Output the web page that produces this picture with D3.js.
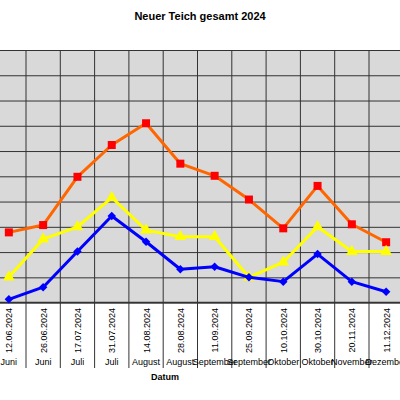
<!DOCTYPE html>
<html>
<head>
<meta charset="utf-8">
<script src="https://cdn.jsdelivr.net/npm/d3@7"></script>
<style>
  body { margin: 0; background: #fff; }
  svg { display: block; font-family: "Liberation Sans", Arial, sans-serif; }
</style>
</head>
<body>
<div id="chart"></div>
<script>
const dates = ['12.06.2024', '26.06.2024', '17.07.2024', '31.07.2024', '14.08.2024', '28.08.2024',
  '11.09.2024', '25.09.2024', '10.10.2024', '30.10.2024', '20.11.2024', '11.12.2024'];
const months = ['Juni', 'Juni', 'Juli', 'Juli', 'August', 'August',
  'September', 'September', 'Oktober', 'Oktober', 'November', 'Dezember'];

// values (y axis is cut off in the picture, so grid units)
const orangeValues = [2.78, 3.07, 4.98, 6.24, 7.10, 5.50, 5.02, 4.08, 2.94, 4.62, 3.10, 2.39];
const yellowValues = [1.01, 2.51, 3.00, 4.16, 2.87, 2.61, 2.61, 1.00, 1.60, 3.00, 2.02, 2.02];
const blueValues = [0.13, 0.61, 2.02, 3.43, 2.41, 1.32, 1.42, 1.00, 0.83, 1.92, 0.83, 0.43];

const yTicks = d3.range(0, 11);

const width = 400, height = 400;
const plot = { left: -8.3, right: 403.3, top: 50, bottom: 302.6 };

const svg = d3.select('#chart').append('svg')
  .attr('width', width)
  .attr('height', height);

const x = d3.scaleBand()
  .domain(dates)
  .range([plot.left, plot.right]);

const y = d3.scaleLinear()
  .domain([0, 10])
  .range([plot.bottom, plot.top]);

// title
svg.append('text')
  .attr('x', 200)
  .attr('y', 20)
  .attr('text-anchor', 'middle')
  .attr('font-size', 11)
  .attr('font-weight', 'bold')
  .attr('fill', '#000')
  .text('Neuer Teich gesamt 2024');

// plot background
svg.append('rect')
  .attr('x', plot.left)
  .attr('y', plot.top)
  .attr('width', plot.right - plot.left)
  .attr('height', plot.bottom - plot.top)
  .attr('fill', '#d9d9d9');

// horizontal grid
svg.append('g')
  .attr('class', 'y-grid')
  .attr('transform', `translate(${plot.left},0)`)
  .call(d3.axisLeft(y).tickValues(yTicks).tickSize(-(plot.right - plot.left)).tickFormat(''))
  .call(g => g.select('.domain').remove())
  .call(g => g.selectAll('.tick line').attr('stroke', '#333').attr('stroke-width', 1));

// vertical separators: through plot and down through the label area
const edges = dates.map(d => x(d)).concat([plot.right]);
svg.append('g')
  .attr('class', 'x-grid')
  .selectAll('line')
  .data(edges)
  .join('line')
  .attr('x1', d => d)
  .attr('x2', d => d)
  .attr('y1', plot.top)
  .attr('y2', 368)
  .attr('stroke', '#333')
  .attr('stroke-width', 1);

// bottom border of plot
svg.append('line')
  .attr('x1', plot.left)
  .attr('x2', plot.right)
  .attr('y1', plot.bottom)
  .attr('y2', plot.bottom)
  .attr('stroke', '#333')
  .attr('stroke-width', 1.5);

// x labels: rotated dates
const cx = d => x(d) + x.bandwidth() / 2;
svg.append('g')
  .selectAll('text')
  .data(dates)
  .join('text')
  .attr('transform', d => `translate(${cx(d) + 3.5},308) rotate(-90)`)
  .attr('text-anchor', 'end')
  .attr('font-size', 9)
  .attr('fill', '#000')
  .text(d => d);

// month names
svg.append('g')
  .selectAll('text')
  .data(months)
  .join('text')
  .attr('x', (d, i) => cx(dates[i]))
  .attr('y', 365)
  .attr('text-anchor', 'middle')
  .attr('font-size', 9)
  .attr('fill', '#000')
  .text(d => d);

svg.append('text')
  .attr('x', 165)
  .attr('y', 380)
  .attr('text-anchor', 'middle')
  .attr('font-size', 9)
  .attr('font-weight', 'bold')
  .attr('fill', '#000')
  .text('Datum');

const line = d3.line()
  .x((d, i) => cx(dates[i]))
  .y(d => y(d));

// diamond = square turned 45 degrees, as in the picture
const series = [
  { name: 'orange', values: orangeValues, stroke: '#ff6600', marker: d3.symbolSquare, fill: '#ff0000', size: 64, rot: 0 },
  { name: 'yellow', values: yellowValues, stroke: '#ffff00', marker: d3.symbolTriangle, fill: '#ffff00', size: 60, rot: 0 },
  { name: 'blue', values: blueValues, stroke: '#0000ff', marker: d3.symbolSquare, fill: '#0000ff', size: 36, rot: 45 }
];

series.forEach(s => {
  const g = svg.append('g').attr('class', `series-${s.name}`);
  g.append('path')
    .datum(s.values)
    .attr('d', line)
    .attr('fill', 'none')
    .attr('stroke', s.stroke)
    .attr('stroke-width', 3)
    .attr('stroke-linejoin', 'round');
  g.selectAll('path.marker')
    .data(s.values)
    .join('path')
    .attr('class', 'marker')
    .attr('transform', (d, i) => `translate(${cx(dates[i])},${y(d)}) rotate(${s.rot})`)
    .attr('d', d3.symbol().type(s.marker).size(s.size))
    .attr('fill', s.fill);
});
</script>
</body>
</html>
